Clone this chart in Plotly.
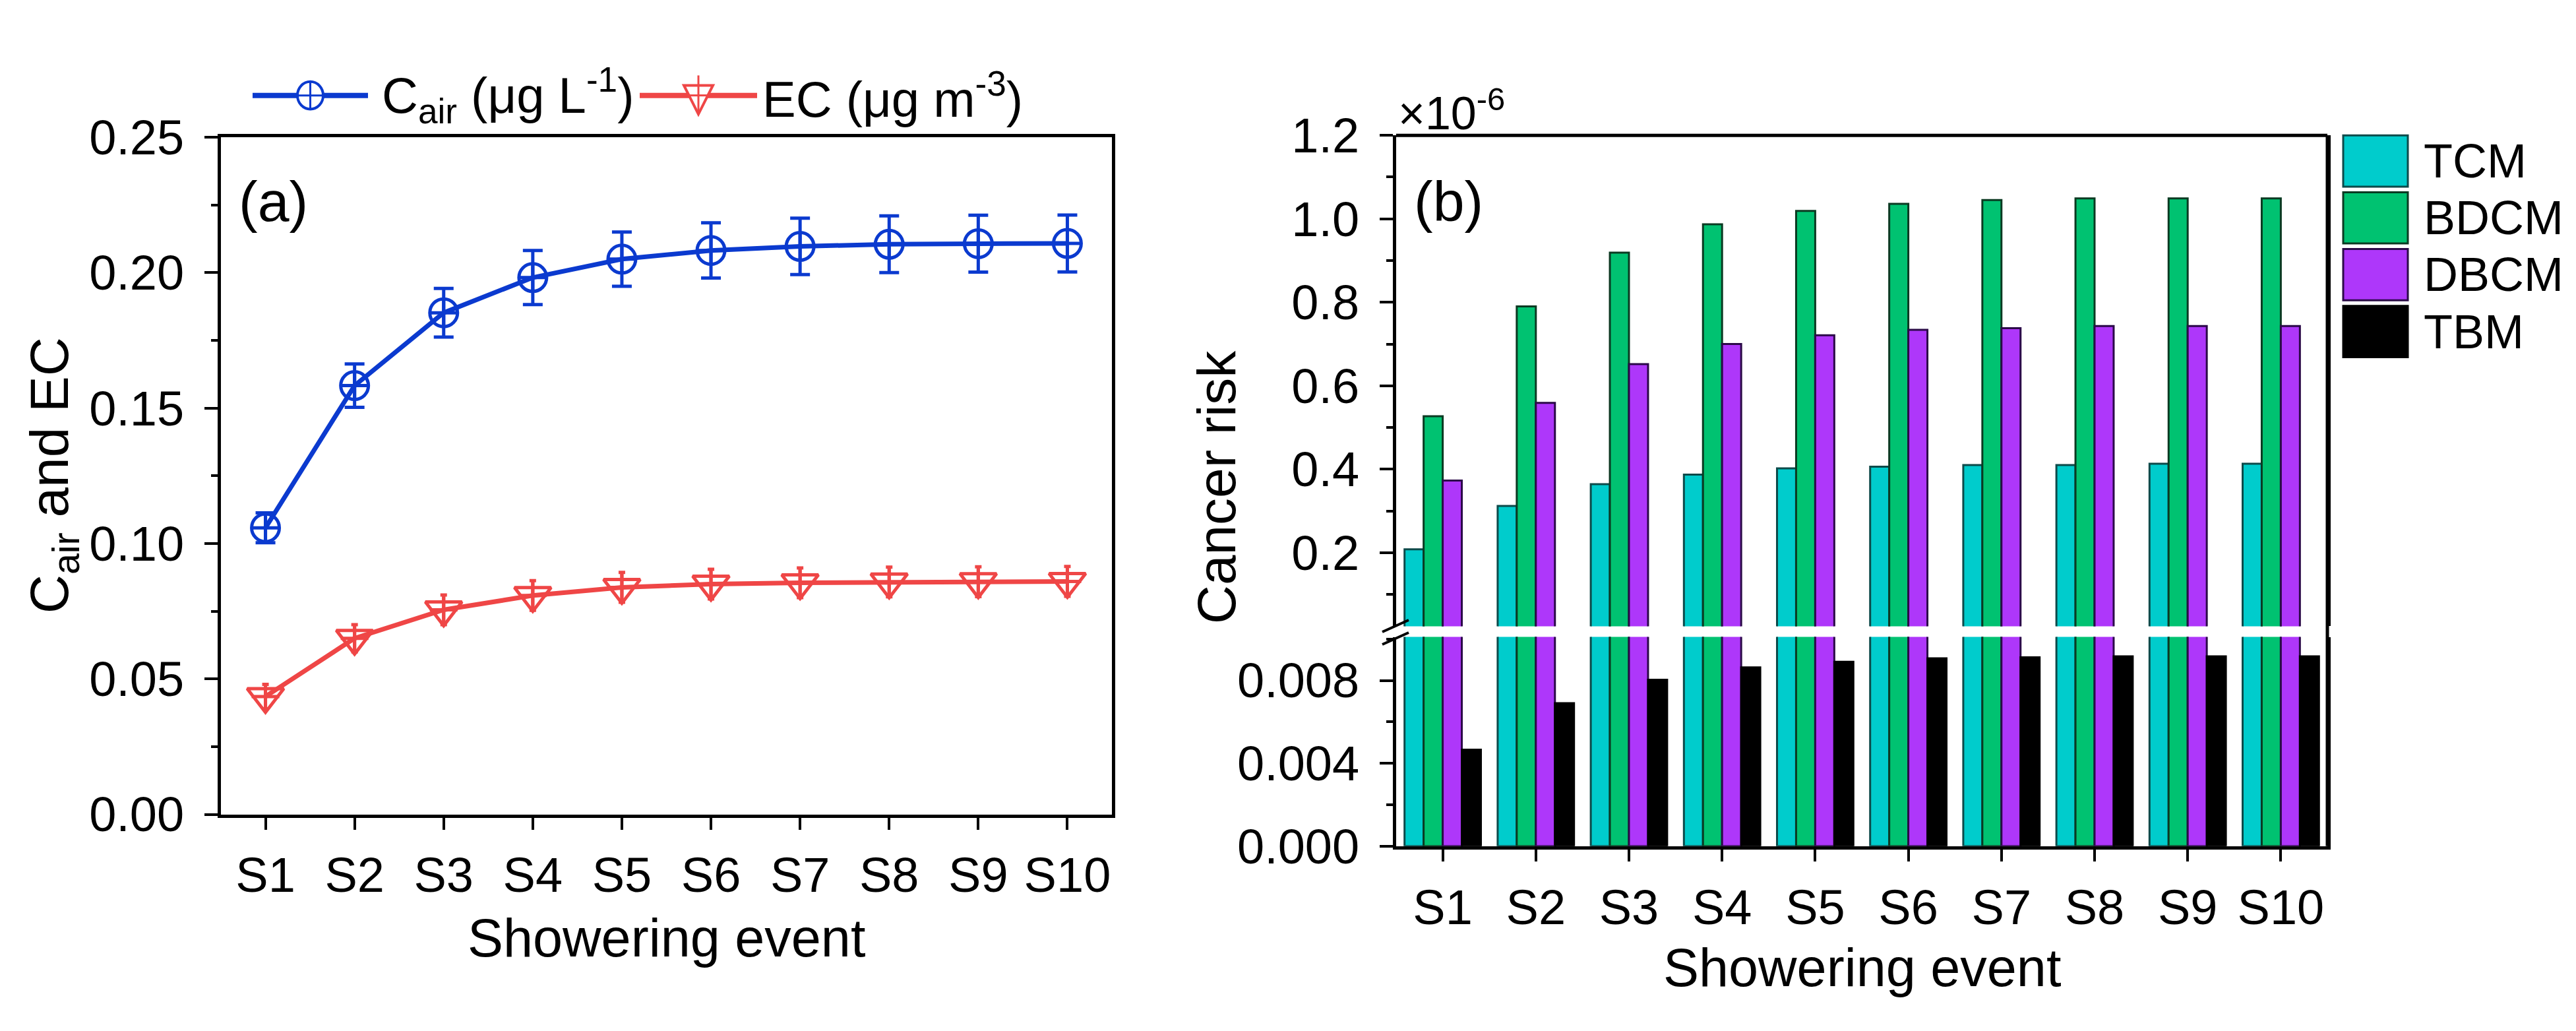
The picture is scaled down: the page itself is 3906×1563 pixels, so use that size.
import plotly.graph_objects as go

# ---- data ----
events = ["S1", "S2", "S3", "S4", "S5", "S6", "S7", "S8", "S9", "S10"]

cair = [0.1058, 0.1583, 0.1852, 0.1982, 0.2050, 0.2082, 0.2097, 0.2105, 0.2107, 0.2108]
cair_err = [0.0055, 0.0080, 0.0090, 0.0100, 0.0100, 0.0102, 0.0104, 0.0105, 0.0105, 0.0105]
ec = [0.0435, 0.0650, 0.0755, 0.0808, 0.0838, 0.0850, 0.0855, 0.0858, 0.0859, 0.0860]
ec_err = [0.0045, 0.0050, 0.0055, 0.0055, 0.0055, 0.0055, 0.0055, 0.0055, 0.0055, 0.0055]

# cancer risk, x10^-6
tcm = [0.208, 0.312, 0.364, 0.387, 0.402, 0.406, 0.410, 0.410, 0.413, 0.413]
bdcm = [0.527, 0.790, 0.919, 0.987, 1.019, 1.036, 1.045, 1.049, 1.049, 1.049]
dbcm = [0.373, 0.559, 0.652, 0.700, 0.721, 0.734, 0.738, 0.743, 0.743, 0.743]
tbm = [0.00466, 0.0069, 0.00803, 0.00863, 0.0089, 0.00907, 0.00912, 0.00916, 0.00916, 0.00916]

risk_names = ["TCM", "BDCM", "DBCM", "TBM"]
risk_values = [tcm, bdcm, dbcm, tbm]
risk_colors = ["#00CCCC", "#00C271", "#AE37FA", "#000000"]
risk_edges = ["#0d4a4a", "#0b3a22", "#2b0a48", "#000000"]

BLUE = "#0B3ACF"
RED = "#EF4646"
FONT = "Liberation Sans, Arial, sans-serif"

W, H = 3906, 1563


def fx(p):
    return p / W


def fy(p):
    return 1 - p / H


fig = go.Figure()

# ---- panel (a) ----
fig.add_trace(go.Scatter(
    x=events, y=cair, mode="lines+markers", xaxis="x", yaxis="y",
    line=dict(color=BLUE, width=7),
    marker=dict(symbol="circle-cross-open", size=42, color=BLUE, line=dict(width=5, color=BLUE)),
    error_y=dict(type="data", array=cair_err, color=BLUE, thickness=5, width=15),
    showlegend=False))
fig.add_trace(go.Scatter(
    x=events, y=ec, mode="lines+markers", xaxis="x", yaxis="y",
    line=dict(color=RED, width=7),
    marker=dict(symbol="triangle-down-open", size=48, color=RED, line=dict(width=5, color=RED)),
    error_y=dict(type="data", array=ec_err, color=RED, thickness=5, width=5),
    showlegend=False))
fig.add_trace(go.Scatter(
    x=events, y=ec, mode="markers", xaxis="x", yaxis="y",
    marker=dict(symbol="cross-thin-open", size=30, color=RED, line=dict(width=5, color=RED)),
    showlegend=False, hoverinfo="skip"))

# ---- panel (b), broken axis: upper y2, lower y3 ----
for name, vals, col, edge in zip(risk_names, risk_values, risk_colors, risk_edges):
    for ya in ("y2", "y3"):
        fig.add_trace(go.Bar(
            x=events, y=vals, name=name, xaxis="x2", yaxis=ya,
            marker=dict(color=col, line=dict(color=edge, width=3)),
            showlegend=False))

tickfont = dict(family=FONT, size=74, color="black")
axis_common = dict(showline=True, linecolor="black", linewidth=5, ticks="outside",
                   tickwidth=4, tickcolor="black", tickfont=tickfont, showgrid=False,
                   zeroline=False)

fig.update_layout(
    width=W, height=H,
    margin=dict(l=0, r=0, t=0, b=0),
    paper_bgcolor="white", plot_bgcolor="white",
    font=dict(family=FONT, color="black"),
    barmode="group", bargap=0.18, bargroupgap=0,
    xaxis=dict(domain=[fx(327), fx(1678)], anchor="y", range=[-0.5, 9.5], mirror=True,
               ticklen=18, ticklabelstandoff=6, **axis_common),
    yaxis=dict(domain=[fy(1252), fy(168)], anchor="x", range=[0, 0.25], mirror=True,
               tickvals=[0, 0.05, 0.10, 0.15, 0.20, 0.25], tickformat=".2f", ticklen=20,
               ticklabelstandoff=16,
               minor=dict(dtick=0.025, tick0=0, ticks="outside", ticklen=10, tickwidth=4,
                          tickcolor="black"),
               **axis_common),
    xaxis2=dict(domain=[fx(2109), fx(3521)], anchor="y3", range=[-0.5, 9.5], mirror=False,
                ticklen=18, ticklabelstandoff=6, **axis_common),
    yaxis2=dict(domain=[fy(951), fy(165)], anchor="x2", range=[0.0235, 1.2], mirror=True,
                tickvals=[0.2, 0.4, 0.6, 0.8, 1.0, 1.2], tickformat=".1f", ticklen=20,
                ticklabelstandoff=16,
                minor=dict(dtick=0.1, tick0=0, ticks="outside", ticklen=10, tickwidth=4,
                           tickcolor="black"),
                **axis_common),
    yaxis3=dict(domain=[fy(1303), fy(968)], anchor="x2", range=[0, 0.0101], mirror=True,
                tickvals=[0, 0.004, 0.008], tickformat=".3f", ticklen=20,
                ticklabelstandoff=16,
                minor=dict(dtick=0.002, tick0=0, ticks="outside", ticklen=10, tickwidth=4,
                           tickcolor="black"),
                **axis_common),
)

shapes = []
# top and right frame of panel (b) (continuous across the break)
shapes.append(dict(type="line", xref="paper", yref="paper", x0=fx(2109), x1=fx(3521),
                   y0=fy(165), y1=fy(165), line=dict(color="black", width=5)))
shapes.append(dict(type="line", xref="paper", yref="paper", x0=fx(3521), x1=fx(3521),
                   y0=fy(1303), y1=fy(165), line=dict(color="black", width=5)))
# break marks
for yb in (960, 980):
    shapes.append(dict(type="line", xref="paper", yref="paper", x0=fx(2088), x1=fx(2128),
                       y0=fy(yb), y1=fy(yb - 19), line=dict(color="black", width=4)))

# legend of panel (a)
leg_y = 101
shapes.append(dict(type="line", xref="paper", yref="paper", x0=fx(375), x1=fx(550),
                   y0=fy(leg_y), y1=fy(leg_y), line=dict(color=BLUE, width=8)))
shapes.append(dict(type="circle", xref="paper", yref="paper", x0=fx(443), x1=fx(482),
                   y0=fy(leg_y + 22), y1=fy(leg_y - 22), fillcolor="white",
                   line=dict(color=BLUE, width=4)))
shapes.append(dict(type="line", xref="paper", yref="paper", x0=fx(443), x1=fx(482),
                   y0=fy(leg_y), y1=fy(leg_y), line=dict(color=BLUE, width=3)))
shapes.append(dict(type="line", xref="paper", yref="paper", x0=fx(462.5), x1=fx(462.5),
                   y0=fy(leg_y + 22), y1=fy(leg_y - 22), line=dict(color=BLUE, width=3)))
shapes.append(dict(type="line", xref="paper", yref="paper", x0=fx(962), x1=fx(1140),
                   y0=fy(leg_y), y1=fy(leg_y), line=dict(color=RED, width=8)))
tri = "M {:.5f},{:.5f} L {:.5f},{:.5f} L {:.5f},{:.5f} Z".format(
    fx(1029), fy(leg_y - 16), fx(1073), fy(leg_y - 16), fx(1051), fy(leg_y + 30))
shapes.append(dict(type="path", xref="paper", yref="paper", path=tri, fillcolor="white",
                   line=dict(color=RED, width=4)))
shapes.append(dict(type="line", xref="paper", yref="paper", x0=fx(1037), x1=fx(1065),
                   y0=fy(leg_y), y1=fy(leg_y), line=dict(color=RED, width=3)))
shapes.append(dict(type="line", xref="paper", yref="paper", x0=fx(1051), x1=fx(1051),
                   y0=fy(leg_y + 30), y1=fy(leg_y - 32), line=dict(color=RED, width=3)))

# legend of panel (b)
for i, (name, col, edge) in enumerate(zip(risk_names, risk_colors, risk_edges)):
    top = 165 + i * 91
    shapes.append(dict(type="rect", xref="paper", yref="paper", x0=fx(3545), x1=fx(3643),
                       y0=fy(top + 82), y1=fy(top), fillcolor=col,
                       line=dict(color=edge, width=3)))

annotations = [
    dict(text="C<sub>air</sub> (μg L<sup>-1</sup>)", x=fx(569), y=fy(leg_y), xanchor="left",
         yanchor="middle", font=dict(size=76)),
    dict(text="EC (μg m<sup>-3</sup>)", x=fx(1146), y=fy(leg_y), xanchor="left",
         yanchor="middle", font=dict(size=76)),
    dict(text="(a)", x=fx(352), y=fy(270), xanchor="left", yanchor="middle",
         font=dict(size=86)),
    dict(text="(b)", x=fx(2134), y=fy(270), xanchor="left", yanchor="middle",
         font=dict(size=86)),
    dict(text="×10<sup>-6</sup>", x=fx(2110), y=fy(125), xanchor="left", yanchor="middle",
         font=dict(size=70)),
    dict(text="Showering event", x=fx(1002), y=fy(1450), xanchor="center", yanchor="middle",
         font=dict(size=81)),
    dict(text="Showering event", x=fx(2815), y=fy(1497), xanchor="center", yanchor="middle",
         font=dict(size=81)),
    dict(text="C<sub>air</sub> and EC", x=fx(72), y=fy(710), xanchor="center",
         yanchor="middle", textangle=-90, font=dict(size=82)),
    dict(text="Cancer risk", x=fx(1836), y=fy(728), xanchor="center", yanchor="middle",
         textangle=-90, font=dict(size=82)),
]
for i, name in enumerate(risk_names):
    annotations.append(dict(text=name, x=fx(3665), y=fy(165 + i * 91 + 41), xanchor="left",
                            yanchor="middle", font=dict(size=72)))

for a in annotations:
    a.update(xref="paper", yref="paper", showarrow=False)
    a["font"].update(family=FONT, color="black")

fig.update_layout(shapes=shapes, annotations=annotations)

fig.write_html("out.html")
